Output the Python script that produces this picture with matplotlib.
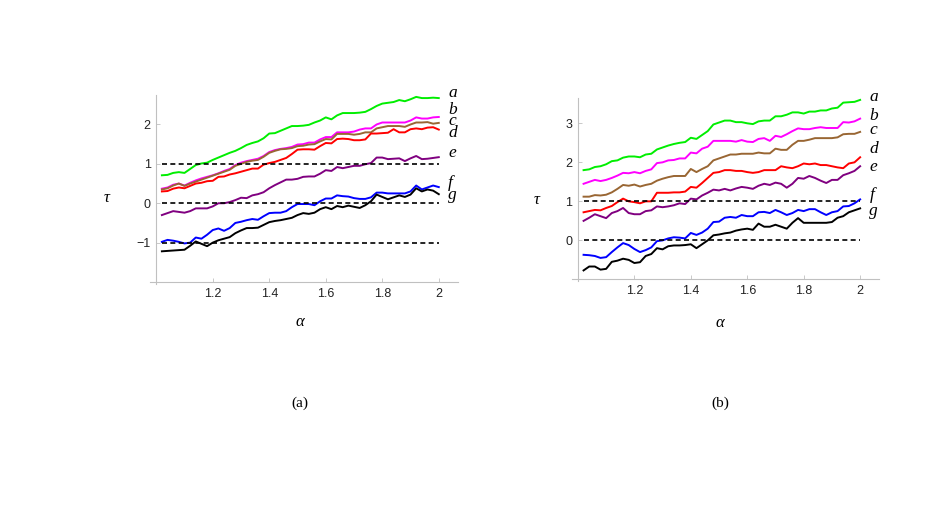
import numpy as np
import matplotlib
matplotlib.use("Agg")
import matplotlib.pyplot as plt

alpha = [round(1.02 + 0.02 * i, 2) for i in range(50)]
labels = ["a", "b", "c", "d", "e", "f", "g"]
colors = ["#00ee00", "#ff00ff", "#996633", "#ff0000", "#800080", "#0000ff", "#000000"]

# Panel (a)
a_a = [0.71,0.72,0.77,0.79,0.77,0.87,0.97,1.01,1.03,1.10,1.16,1.22,1.28,1.33,1.40,1.48,1.53,1.57,1.65,1.77,
       1.78,1.84,1.90,1.96,1.96,1.97,1.99,2.05,2.10,2.18,2.13,2.23,2.29,2.29,2.29,2.30,2.32,2.39,2.47,2.53,
       2.55,2.57,2.62,2.59,2.64,2.70,2.67,2.67,2.68,2.67]
a_b = [0.37,0.40,0.47,0.50,0.45,0.52,0.58,0.63,0.67,0.71,0.76,0.82,0.87,0.97,1.03,1.07,1.10,1.13,1.20,1.30,
       1.35,1.38,1.40,1.43,1.49,1.50,1.54,1.54,1.62,1.68,1.68,1.80,1.80,1.80,1.82,1.87,1.90,1.90,2.00,2.05,
       2.05,2.05,2.05,2.05,2.10,2.18,2.15,2.15,2.18,2.19]
a_c = [0.35,0.38,0.45,0.50,0.44,0.50,0.55,0.60,0.65,0.70,0.75,0.80,0.85,0.95,1.00,1.05,1.08,1.10,1.18,1.28,
       1.33,1.37,1.38,1.40,1.45,1.46,1.49,1.50,1.57,1.63,1.62,1.76,1.76,1.76,1.74,1.76,1.80,1.80,1.90,1.93,
       1.96,1.96,1.96,1.94,2.00,2.05,2.05,2.06,2.02,2.04]
a_d = [0.30,0.31,0.37,0.40,0.38,0.44,0.50,0.52,0.56,0.57,0.67,0.68,0.73,0.76,0.80,0.84,0.88,0.88,0.98,1.02,
       1.05,1.10,1.15,1.25,1.36,1.37,1.37,1.36,1.45,1.53,1.52,1.63,1.64,1.63,1.60,1.60,1.62,1.77,1.77,1.78,
       1.79,1.88,1.80,1.80,1.88,1.90,1.88,1.92,1.93,1.87]
a_e = [-0.30,-0.25,-0.20,-0.22,-0.24,-0.20,-0.13,-0.13,-0.13,-0.08,0.00,0.00,0.03,0.08,0.14,0.13,0.20,0.23,0.28,0.38,
       0.46,0.53,0.60,0.60,0.62,0.67,0.68,0.68,0.75,0.84,0.82,0.92,0.89,0.92,0.95,0.95,0.99,1.02,1.16,1.16,
       1.12,1.13,1.14,1.07,1.14,1.20,1.12,1.13,1.15,1.17]
a_f = [-0.98,-0.93,-0.95,-0.98,-1.02,-1.00,-0.87,-0.90,-0.80,-0.68,-0.64,-0.70,-0.63,-0.50,-0.47,-0.43,-0.40,-0.42,-0.33,-0.25,
       -0.24,-0.24,-0.20,-0.10,-0.02,-0.02,-0.02,-0.05,0.05,0.12,0.12,0.20,0.18,0.17,0.13,0.11,0.11,0.15,0.27,0.27,
       0.25,0.25,0.25,0.25,0.30,0.45,0.35,0.40,0.45,0.41]
a_g = [-1.22,-1.21,-1.20,-1.19,-1.18,-1.08,-0.97,-1.03,-1.09,-1.00,-0.94,-0.90,-0.86,-0.76,-0.69,-0.63,-0.63,-0.62,-0.55,-0.48,
       -0.45,-0.43,-0.40,-0.37,-0.30,-0.25,-0.27,-0.24,-0.15,-0.10,-0.15,-0.07,-0.10,-0.06,-0.09,-0.12,-0.05,0.05,0.22,0.16,
       0.10,0.15,0.20,0.16,0.22,0.38,0.30,0.35,0.32,0.23]

# Panel (b)
b_a = [1.80,1.82,1.88,1.90,1.95,2.03,2.05,2.12,2.15,2.15,2.13,2.20,2.22,2.33,2.38,2.43,2.47,2.50,2.52,2.63,
       2.60,2.70,2.80,2.97,3.02,3.07,3.07,3.03,3.03,3.00,2.98,3.05,3.07,3.07,3.18,3.18,3.22,3.28,3.28,3.25,
       3.30,3.30,3.33,3.33,3.38,3.40,3.53,3.54,3.55,3.60]
b_b = [1.45,1.50,1.55,1.52,1.55,1.60,1.66,1.73,1.72,1.75,1.72,1.78,1.82,1.98,2.00,2.05,2.06,2.10,2.10,2.25,
       2.23,2.35,2.40,2.55,2.55,2.55,2.55,2.53,2.57,2.53,2.52,2.60,2.62,2.55,2.68,2.65,2.72,2.80,2.87,2.85,
       2.85,2.88,2.90,2.88,2.88,2.88,3.03,3.02,3.05,3.12]
b_c = [1.12,1.12,1.16,1.15,1.17,1.23,1.32,1.42,1.40,1.43,1.38,1.42,1.45,1.53,1.58,1.62,1.65,1.65,1.65,1.83,
       1.75,1.83,1.90,2.05,2.10,2.15,2.20,2.20,2.22,2.22,2.22,2.25,2.23,2.23,2.35,2.32,2.32,2.45,2.55,2.55,
       2.58,2.62,2.62,2.62,2.62,2.64,2.72,2.73,2.73,2.78]
b_d = [0.72,0.75,0.78,0.77,0.83,0.88,0.98,1.07,1.00,0.98,0.95,1.00,1.00,1.22,1.22,1.22,1.23,1.23,1.25,1.37,
       1.35,1.47,1.60,1.73,1.75,1.80,1.80,1.78,1.78,1.75,1.73,1.75,1.80,1.80,1.80,1.90,1.87,1.85,1.90,1.97,
       1.95,1.97,1.93,1.93,1.90,1.87,1.85,1.97,2.00,2.13]
b_e = [0.50,0.58,0.67,0.62,0.57,0.70,0.75,0.83,0.70,0.67,0.67,0.75,0.77,0.87,0.85,0.87,0.90,0.95,0.93,1.07,
       1.05,1.15,1.22,1.30,1.28,1.32,1.28,1.33,1.37,1.35,1.32,1.40,1.45,1.42,1.48,1.45,1.35,1.45,1.60,1.58,
       1.65,1.60,1.53,1.47,1.55,1.55,1.67,1.72,1.78,1.90]
b_f = [-0.37,-0.38,-0.40,-0.45,-0.43,-0.30,-0.18,-0.07,-0.12,-0.22,-0.30,-0.25,-0.18,-0.02,0.00,0.05,0.08,0.07,0.05,0.19,
       0.14,0.20,0.30,0.47,0.48,0.58,0.60,0.58,0.65,0.62,0.62,0.72,0.73,0.70,0.78,0.72,0.65,0.70,0.78,0.75,
       0.80,0.80,0.72,0.65,0.72,0.75,0.87,0.88,0.95,1.05]
b_g = [-0.77,-0.67,-0.67,-0.75,-0.73,-0.55,-0.52,-0.47,-0.50,-0.58,-0.56,-0.40,-0.35,-0.20,-0.23,-0.15,-0.13,-0.13,-0.12,-0.10,
       -0.20,-0.10,0.00,0.13,0.15,0.18,0.20,0.25,0.28,0.30,0.27,0.43,0.35,0.35,0.40,0.35,0.30,0.45,0.57,0.45,
       0.45,0.45,0.45,0.45,0.47,0.58,0.62,0.72,0.77,0.82]

series_a = [a_a, a_b, a_c, a_d, a_e, a_f, a_g]
series_b = [b_a, b_b, b_c, b_d, b_e, b_f, b_g]

# label positions (tau) next to the curve ends
lab_a = [2.81, 2.37, 2.08, 1.78, 1.28, 0.52, 0.20]
lab_b = [3.68, 3.19, 2.83, 2.34, 1.89, 1.16, 0.75]

dash_a = [1, 0, -1]
dash_b = [1, 0]

xticks = [1.2, 1.4, 1.6, 1.8, 2.0]
xticklabels = ["1.2", "1.4", "1.6", "1.8", "2"]

fig = plt.figure(figsize=(9.26, 5.21), dpi=100)

axc = "#c0c0c0"

def panel(rect, series, labs, dashes, ylim, ybase, yticks, ylabels):
    ax = fig.add_axes(rect)
    ax.set_xlim(0.978, 2.068)
    ax.set_ylim(*ylim)
    for s, c in zip(series, colors):
        assert len(s) == len(alpha)
        ax.plot(alpha, s, color=c, lw=1.4, solid_joinstyle="round")
    for d in dashes:
        ax.plot([alpha[0], alpha[-1]], [d, d], color="black", lw=1.2, ls=(0, (3, 2)))
    for l, y in zip(labels, labs):
        ax.text(2.033, y, l, fontsize=12.5, family="Liberation Serif", style="italic",
                ha="left", va="center", clip_on=False)
    for sp in ["top", "right"]:
        ax.spines[sp].set_visible(False)
    ax.spines["left"].set_position(("data", 1.0))
    ax.spines["bottom"].set_position(("data", ybase))
    for sp in ["left", "bottom"]:
        ax.spines[sp].set_color(axc)
        ax.spines[sp].set_linewidth(0.8)
    ax.set_xticks(xticks)
    ax.set_xticklabels(xticklabels)
    ax.set_yticks(yticks)
    ax.set_yticklabels(ylabels)
    ax.tick_params(direction="in", length=3, width=0.6, color=axc, labelsize=9,
                   labelcolor="#222222", pad=4)
    for t in ax.get_xticklabels() + ax.get_yticklabels():
        t.set_family("Liberation Sans")
    ax.patch.set_visible(False)
    return ax

ax1 = panel([0.162, 0.4549, 0.3326, 0.3629], series_a, lab_a, dash_a, (-2.05, 2.75), -2.0,
            [-1, 0, 1, 2], ["\u22121", "0", "1", "2"])
ax2 = panel([0.6174, 0.460, 0.3322, 0.352], series_b, lab_b, dash_b, (-1.05, 3.65), -1.0,
            [0, 1, 2, 3], ["0", "1", "2", "3"])

serif = dict(family="Liberation Serif", style="italic", fontsize=12, ha="center", va="center")
fig.text(106.7 / 926, 1 - 198.3 / 521, "\u03c4", **serif)
fig.text(300 / 926, 1 - 322 / 521, "\u03b1", **serif)
fig.text(536.7 / 926, 1 - 200 / 521, "\u03c4", **serif)
fig.text(720 / 926, 1 - 323 / 521, "\u03b1", **serif)
fig.text(300 / 926, 1 - 403 / 521, "(a)", family="Liberation Serif", fontsize=11, ha="center", va="center")
fig.text(720 / 926, 1 - 403 / 521, "(b)", family="Liberation Serif", fontsize=11, ha="center", va="center")

fig.savefig("out.png", dpi=100)
